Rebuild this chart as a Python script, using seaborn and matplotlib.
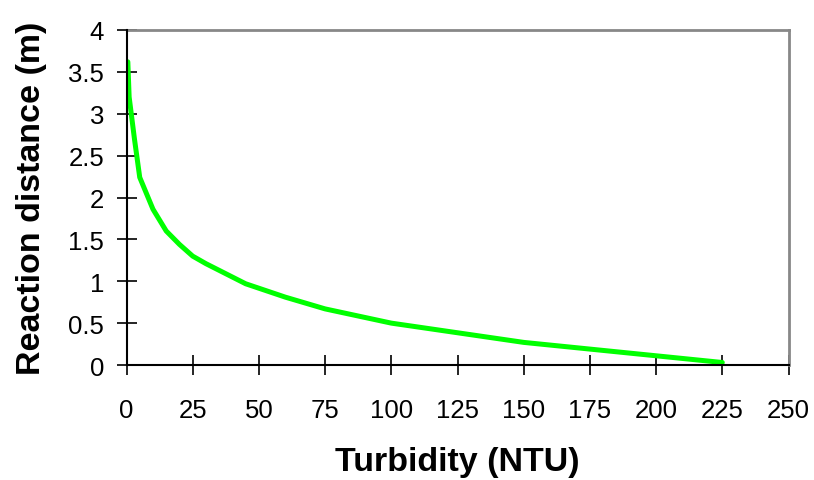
import matplotlib
matplotlib.use("Agg")
import matplotlib.pyplot as plt
import seaborn as sns
import pandas as pd

turbidity = [0.5, 1, 3, 5, 10, 15, 20, 25, 30, 45, 60, 75, 100, 150, 225]
reaction_distance = [3.62, 3.20, 2.70, 2.24, 1.86, 1.60, 1.44, 1.30, 1.21, 0.97, 0.81, 0.67, 0.50, 0.27, 0.03]
x_ticks = [0, 25, 50, 75, 100, 125, 150, 175, 200, 225, 250]
y_ticks = [0, 0.5, 1, 1.5, 2, 2.5, 3, 3.5, 4]
y_tick_labels = ["0", "0.5", "1", "1.5", "2", "2.5", "3", "3.5", "4"]

sns.set_theme(style="ticks")
plt.rcParams['font.family'] = ['Liberation Sans', 'DejaVu Sans']
plt.rcParams['text.color'] = 'black'
plt.rcParams['axes.labelcolor'] = 'black'

df = pd.DataFrame({"Turbidity": turbidity, "Distance": reaction_distance})

fig = plt.figure(figsize=(8.14, 4.81), dpi=100)
ax = fig.add_axes([126.5 / 814, 1 - 366 / 481, 662 / 814, 335 / 481])

sns.lineplot(data=df, x="Turbidity", y="Distance", ax=ax, color="#00FF00",
             linewidth=3.6, sort=False, estimator=None)

ax.set_xlim(0, 250)
ax.set_ylim(0, 4)
ax.set_xticks(x_ticks)
ax.set_xticklabels([str(t) for t in x_ticks])
ax.set_yticks(y_ticks)
ax.set_yticklabels(y_tick_labels)

for side in ["left", "bottom"]:
    ax.spines[side].set_visible(True)
    ax.spines[side].set_color("black")
    ax.spines[side].set_linewidth(1.5)
    ax.spines[side].set_zorder(3)
for side in ["top", "right"]:
    ax.spines[side].set_visible(True)
    ax.spines[side].set_color("#888888")
    ax.spines[side].set_linewidth(2)

ax.tick_params(axis="both", which="major", direction="inout", length=14.4,
               width=1.2, color="black", labelsize=18.5, labelcolor="black",
               left=True, bottom=True, top=False, right=False)
ax.tick_params(axis="x", pad=16.5)
ax.tick_params(axis="y", pad=9)

ax.set_xlabel("Turbidity (NTU)", fontsize=24.5, fontweight="bold", labelpad=17, color="black")
ax.set_ylabel("Reaction distance (m)", fontsize=24.5, fontweight="bold", labelpad=15, color="black")
ax.grid(False)

fig.savefig("out.png", dpi=100, facecolor="white")
